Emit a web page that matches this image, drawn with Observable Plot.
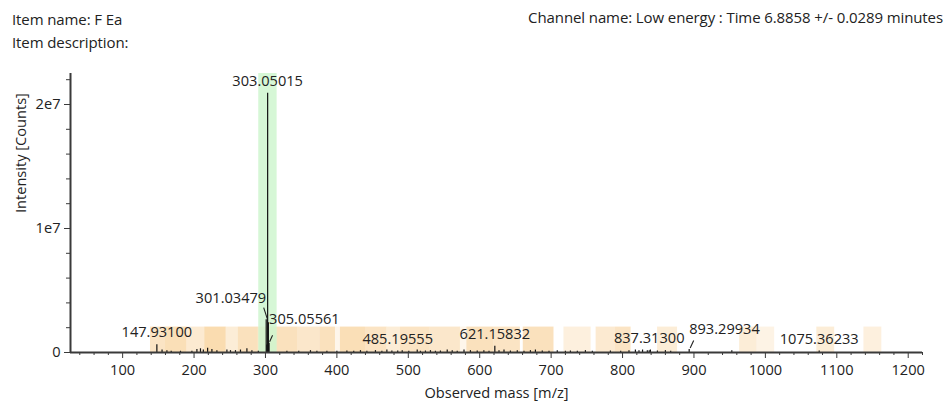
<!DOCTYPE html>
<html><head><meta charset="utf-8">
<script src="https://cdn.jsdelivr.net/npm/d3@7"></script>
<script src="https://cdn.jsdelivr.net/npm/@observablehq/plot@0.6"></script>
<style>
body{margin:0;background:#fff;}
#wrap{position:relative;width:945px;height:409px;font-family:"Open Sans",sans-serif;color:#222;overflow:hidden;}
#chart{position:absolute;left:0;top:0;}
.t{position:absolute;font-size:15px;white-space:nowrap;line-height:16px;letter-spacing:-0.1px;}
</style></head><body>
<div id="wrap">
<div id="chart"></div>
<div class="t" style="left:12px;top:11px">Item name: F Ea</div>
<div class="t" style="left:12px;top:34px">Item description:</div>
<div class="t" style="right:2px;top:9px">Channel name: Low energy : Time 6.8858 +/- 0.0289 minutes</div>
</div>
<script>
// ---- data ----
const peakMz = [147.93,155.2,162.0,168.0,181.0,197.0,204.0,209.0,213.0,219.0,225.0,232.0,246.0,251.0,258.0,265.0,274.0,281.0,290.0,
  301.03479,302.04,303.05015,304.05,305.05561,330.0,346.6,363.0,372.0,386.0,400,414,423.6,433,442,454,463,470,477,485.19555,491.5,500.7,
  512.5,517,524,531,538,545,554.5,561.5,568.5,578,587,596.5,605.8,613,621.15832,627,634,643,652.6,662,671,678,687.6,697,708.6,720,727,
  736.7,748,757.7,783,797.4,809,818,823,828,834.7,837.31300,839,848.8,860,867.4,893.29934,953,1075.36233];
const peakIntensity = [0.62e6,0.2e6,0.15e6,0.1e6,0.1e6,0.1e6,0.25e6,0.3e6,0.2e6,0.35e6,0.25e6,0.15e6,0.2e6,0.15e6,0.15e6,0.2e6,0.3e6,0.15e6,0.1e6,
  2.65e6,0.6e6,2.09e7,2.4e6,0.75e6,0.1e6,0.1e6,0.15e6,0.1e6,0.1e6,0.1e6,0.12e6,0.1e6,0.15e6,0.1e6,0.15e6,0.1e6,0.2e6,0.12e6,0.12e6,0.15e6,0.1e6,
  0.2e6,0.1e6,0.12e6,0.15e6,0.1e6,0.12e6,0.2e6,0.15e6,0.1e6,0.2e6,0.15e6,0.12e6,0.15e6,0.1e6,0.5e6,0.15e6,0.2e6,0.12e6,0.15e6,0.1e6,0.15e6,0.2e6,0.12e6,0.1e6,
  0.15e6,0.1e6,0.12e6,0.1e6,0.15e6,0.1e6,0.12e6,0.1e6,0.15e6,0.2e6,0.15e6,0.2e6,0.15e6,0.15e6,0.2e6,0.12e6,0.15e6,0.1e6,0.25e6,0.15e6,0.12e6];

const labelMz = [147.93100,301.03479,303.05015,305.05561,485.19555,621.15832,837.31300,893.29934,1075.36233];
const labelText = ["147.93100","301.03479","303.05015","305.05561","485.19555","621.15832","837.31300","893.29934","1075.36233"];
const labelIntensity = [0.62e6,2.65e6,2.09e7,0.75e6,0.12e6,0.5e6,0.15e6,0.25e6,0.12e6];

const bandStart = [139,160,190,215,245,262,290,316,345,377,398,405,440,470,489,530,573,582,620,661,718,763,790,849,964,988,1072,1138];
const bandEnd   = [160,190,215,245,262,290,316,345,377,398,405,440,470,489,530,573,582,620,657,704,756,790,812,877,988,1013,1097,1163];
const bandLevel = [0.45,0.55,0.35,0.6,0.3,0.5,0.3,0.5,0.4,0.5,0.15,0.55,0.45,0.3,0.45,0.4,0.15,0.5,0.45,0.5,0.25,0.35,0.45,0.3,0.3,0.2,0.3,0.25];
const bandTop = 2.05e6;

const selStart = 290.6, selEnd = 316.3; // selected (green) window, m/z

const xMajor = [100,200,300,400,500,600,700,800,900,1000,1100,1200];
const yMajor = [0,1e7,2e7];
const yTickLabels = ["0","1e7","2e7"];

// ---- tables ----
const peaks = peakMz.map((m,i)=>({mz:m, i:peakIntensity[i]}));
const labels = labelMz.map((m,i)=>({mz:m, i:labelIntensity[i], text:labelText[i]}));
const bands = bandStart.map((s,i)=>({x1:s, x2:bandEnd[i], level:bandLevel[i]}));
const xMinor = d3.range(40,1221,20).filter(v=>v%100!==0);
const yMinor = d3.range(0,2.25e7,2e6).filter(v=>!yMajor.includes(v));

const W=945,H=409,ML=70,MR=23,MT=73,MB=57;
const xDom=[27,1220], yDom=[0,2.25e7];
const kx=(xDom[1]-xDom[0])/(W-ML-MR), ky=(yDom[1]-yDom[0])/(H-MT-MB);

const special = new Set(["301.03479","305.05561","893.29934"]);
const byText = t => labels.filter(d=>d.text===t);
const leaders = [
  {l:byText("301.03479")[0], a:[1,-1], b:[-2.5,-12]},
  {l:byText("305.05561")[0], a:[0.5,-1.5], b:[3.5,-8]},
  {l:byText("893.29934")[0], a:[1,-1.5], b:[4.5,-9]}
].map(o=>({x1:o.l.mz+o.a[0]*kx, y1:o.l.i-o.a[1]*ky, x2:o.l.mz+o.b[0]*kx, y2:o.l.i-o.b[1]*ky}));

const axisColor="#3a3a3a";
const chart = Plot.plot({
  width:W, height:H, marginLeft:ML, marginRight:MR, marginTop:MT, marginBottom:MB,
  style:{fontFamily:'"Open Sans",sans-serif', fontSize:"14.6px", color:"#222", background:"transparent"},
  x:{domain:xDom},
  y:{domain:yDom},
  opacity:{domain:[0,1], range:[0,0.42]},
  marks:[
    Plot.rect(bands, {x1:"x1", x2:"x2", y1:0, y2:bandTop, fill:"#f6c47c", fillOpacity:"level"}),
    Plot.rect([{a:selStart,b:selEnd}], {x1:"a", x2:"b", y1:yDom[0], y2:yDom[1], fill:"#c8f4c8", fillOpacity:0.75}),
    Plot.ruleX(peaks, {x:"mz", y1:0, y2:"i", stroke:"#111", strokeWidth:1.2}),
    Plot.link(leaders, {x1:"x1", y1:"y1", x2:"x2", y2:"y2", stroke:"#222", strokeWidth:1.1}),
    Plot.text(labels.filter(d=>!special.has(d.text)), {x:"mz", y:"i", text:"text", dy:-12, fill:"#222"}),
    Plot.text(byText("301.03479"), {x:"mz", y:"i", text:"text", dy:-21, dx:0, textAnchor:"end", fill:"#222"}),
    Plot.text(byText("305.05561"), {x:"mz", y:"i", text:"text", dy:-24, dx:0, textAnchor:"start", fill:"#222"}),
    Plot.text(byText("893.29934"), {x:"mz", y:"i", text:"text", dy:-20.5, dx:0, textAnchor:"start", fill:"#222"}),
    Plot.axisX({ticks:xMajor, tickSize:6, tickPadding:6, stroke:axisColor, tickFormat:d=>String(d), label:null, fill:"#222"}),
    Plot.axisX({ticks:xMinor, tickSize:3, tickFormat:()=>"", stroke:axisColor, label:null}),
    Plot.axisY({ticks:yMajor, tickSize:6, tickPadding:4, stroke:axisColor, tickFormat:(d,i)=>yTickLabels[yMajor.indexOf(d)], label:null, fill:"#222"}),
    Plot.axisY({ticks:yMinor, tickSize:4, tickFormat:()=>"", stroke:axisColor, label:null}),
    Plot.ruleY([0], {stroke:axisColor, strokeWidth:2}),
    Plot.ruleX([xDom[0]], {stroke:axisColor, strokeWidth:2}),
    Plot.text(["Observed mass [m/z]"], {frameAnchor:"bottom", dy:45, fill:"#222"}),
    Plot.text(["Intensity [Counts]"], {frameAnchor:"left", dx:-49, rotate:-90, fill:"#222"})
  ]
});
document.getElementById("chart").appendChild(chart);
</script>
</body></html>
